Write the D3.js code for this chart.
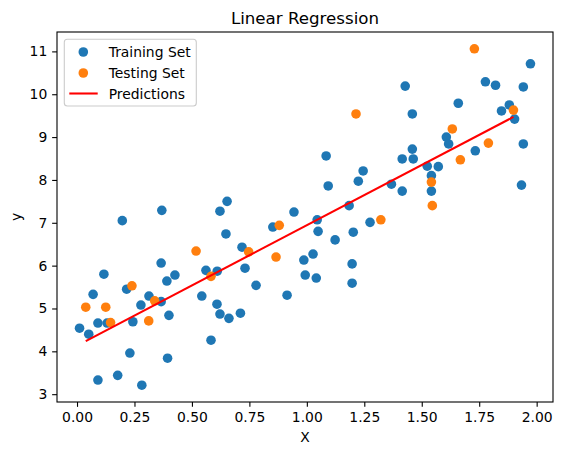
<!DOCTYPE html>
<html>
<head>
<meta charset="utf-8">
<script src="https://cdn.jsdelivr.net/npm/d3@7"></script>
<style>
  html, body { margin: 0; padding: 0; background: #fff; }
  svg { display: block; }
  text { font-family: "DejaVu Sans", sans-serif; fill: #000; }
</style>
</head>
<body>
<svg id="chart" width="563" height="455"></svg>
<script>
// ---- Data ----
const trainX = [0.011,0.051,0.070,0.091,0.091,0.117,0.131,0.177,0.197,0.216,
  0.230,0.243,0.278,0.282,0.313,0.366,0.366,0.369,0.391,0.394,
  0.400,0.426,0.543,0.561,0.583,0.610,0.609,0.622,0.622,0.648,
  0.653,0.661,0.711,0.718,0.731,0.779,0.852,0.914,0.944,0.987,
  0.993,1.027,1.041,1.045,1.049,1.084,1.093,1.123,1.184,1.197,
  1.197,1.202,1.224,1.245,1.275,1.368,1.415,1.415,1.428,1.459,
  1.459,1.463,1.524,1.542,1.542,1.572,1.607,1.617,1.659,1.733,
  1.777,1.821,1.847,1.881,1.904,1.934,1.942,1.942,1.973];
const trainY = [4.54,4.40,5.33,4.66,3.33,5.80,4.66,3.44,7.05,5.45,
  3.96,4.69,5.08,3.21,5.29,6.06,5.16,7.29,5.64,3.84,
  4.84,5.78,5.29,5.89,4.26,5.87,5.10,7.27,4.87,6.74,
  7.50,4.77,4.89,6.43,5.94,5.54,6.90,5.31,7.25,6.13,
  5.78,6.27,5.71,7.07,6.80,8.56,7.86,6.60,7.40,6.04,
  5.59,6.78,7.97,8.21,7.01,7.90,8.49,7.74,10.19,9.54,
  8.72,8.49,8.32,8.10,7.74,8.31,9.00,8.84,9.79,8.68,
  10.29,10.21,9.61,9.75,9.42,7.88,10.17,8.84,10.71];
const testX = [0.038,0.125,0.146,0.239,0.312,0.338,0.518,0.583,0.747,0.866,
  0.880,1.214,1.322,1.542,1.546,1.633,1.668,1.729,1.790,1.899];
const testY = [5.03,5.03,4.67,5.53,4.71,5.18,6.34,5.75,6.32,6.20,
  6.94,9.54,7.07,7.95,7.40,9.19,8.47,11.06,8.86,9.63];
// Predictions line (endpoints)
const predX = [0.038, 1.899];
const predY = [4.24, 9.47];
const xTicks = [0,0.25,0.5,0.75,1,1.25,1.5,1.75,2];
const yTicks = [3,4,5,6,7,8,9,10,11];
const legendLabels = ["Training Set","Testing Set","Predictions"];

// ---- Layout ----
const L = 57, R = 553, T = 32, B = 402;
const svg = d3.select("#chart");

const allX = trainX.concat(testX), allY = trainY.concat(testY);
const [xmin, xmax] = d3.extent(allX), [ymin, ymax] = d3.extent(allY);
const xp = (xmax - xmin) * 0.05, yp = (ymax - ymin) * 0.05;
const x = d3.scaleLinear().domain([xmin - xp, xmax + xp]).range([L, R]);
const y = d3.scaleLinear().domain([ymin - yp, ymax + yp]).range([B, T]);

const tickLen = 4.86;
// X axis
const xAxis = d3.axisBottom(x).tickValues(xTicks).tickFormat(d3.format(".2f"))
  .tickSize(tickLen).tickPadding(4.86);
const gx = svg.append("g").attr("transform", `translate(0,${B})`).call(xAxis);
gx.select(".domain").remove();
gx.selectAll("line").attr("stroke", "#000").attr("stroke-width", 1.1);
gx.selectAll("text").attr("font-size", "13.9px").attr("font-family", "DejaVu Sans").attr("fill", "#000");

// Y axis
const yAxis = d3.axisLeft(y).tickValues(yTicks).tickFormat(d3.format("d"))
  .tickSize(tickLen).tickPadding(4.86);
const gy = svg.append("g").attr("transform", `translate(${L},0)`).call(yAxis);
gy.select(".domain").remove();
gy.selectAll("line").attr("stroke", "#000").attr("stroke-width", 1.1);
gy.selectAll("text").attr("font-size", "13.9px").attr("font-family", "DejaVu Sans").attr("fill", "#000");

// Points
const plot = svg.append("g");
const r = 4.8;
plot.selectAll("circle.train").data(d3.zip(trainX, trainY)).join("circle")
  .attr("class", "train").attr("cx", d => x(d[0])).attr("cy", d => y(d[1]))
  .attr("r", r).attr("fill", "#1f77b4");
plot.selectAll("circle.test").data(d3.zip(testX, testY)).join("circle")
  .attr("class", "test").attr("cx", d => x(d[0])).attr("cy", d => y(d[1]))
  .attr("r", r).attr("fill", "#ff7f0e");

// Predictions line
const line = d3.line().x(d => x(d[0])).y(d => y(d[1]));
plot.append("path").datum(d3.zip(predX, predY)).attr("d", line)
  .attr("fill", "none").attr("stroke", "#ff0000").attr("stroke-width", 2.08);

// Frame
svg.append("rect").attr("x", L).attr("y", T).attr("width", R - L).attr("height", B - T)
  .attr("fill", "none").attr("stroke", "#000").attr("stroke-width", 1.1);

// Title & labels
svg.append("text").attr("x", (L + R) / 2).attr("y", 23.7).attr("text-anchor", "middle")
  .attr("font-size", "16.67px").text("Linear Regression");
svg.append("text").attr("x", (L + R) / 2).attr("y", 442).attr("text-anchor", "middle")
  .attr("font-size", "13.9px").text("X");
svg.append("text").attr("transform", `translate(21,${(T + B) / 2}) rotate(-90)`)
  .attr("text-anchor", "middle").attr("font-size", "13.9px").text("y");

// Legend
const lg = svg.append("g");
lg.append("rect").attr("x", 64.3).attr("y", 39.3).attr("width", 132).attr("height", 66.7)
  .attr("rx", 3).attr("fill", "#fff").attr("fill-opacity", 0.8)
  .attr("stroke", "#cccccc").attr("stroke-width", 1.1);
const rows = [52, 73, 93.5];
lg.append("circle").attr("cx", 83.3).attr("cy", rows[0]).attr("r", r).attr("fill", "#1f77b4");
lg.append("circle").attr("cx", 83.3).attr("cy", rows[1]).attr("r", r).attr("fill", "#ff7f0e");
lg.append("line").attr("x1", 69.3).attr("x2", 97.7).attr("y1", rows[2]).attr("y2", rows[2])
  .attr("stroke", "#ff0000").attr("stroke-width", 2.08);
legendLabels.forEach((t, i) => {
  lg.append("text").attr("x", 108.7).attr("y", rows[i]).attr("dy", "0.36em")
    .attr("font-size", "13.9px").text(t);
});
</script>
</body>
</html>
